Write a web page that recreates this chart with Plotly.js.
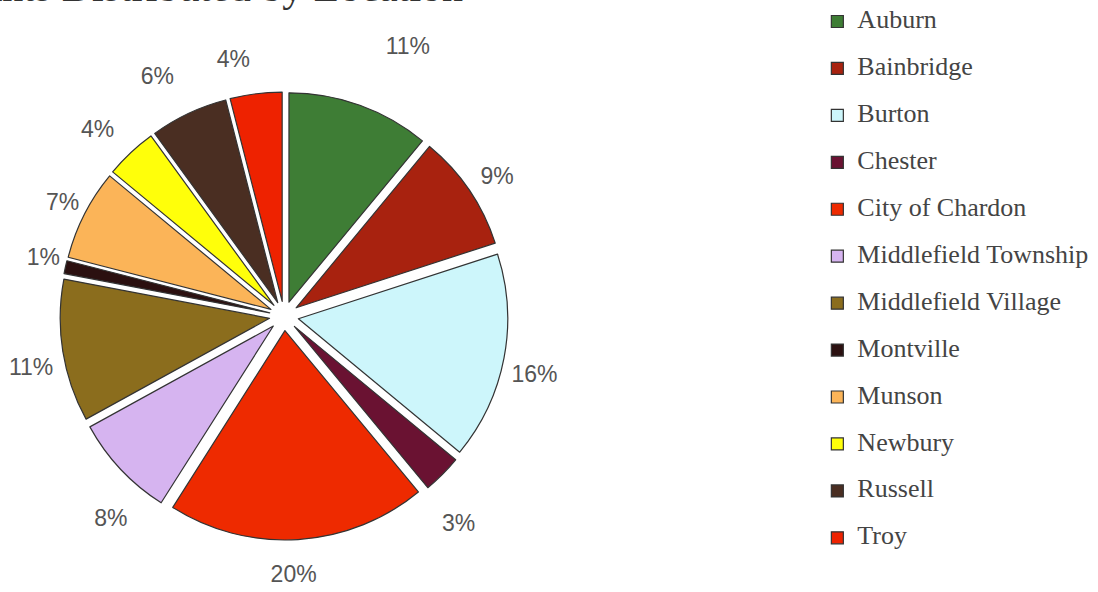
<!DOCTYPE html>
<html>
<head>
<meta charset="utf-8">
<script src="https://cdn.plot.ly/plotly-3.0.1.min.js"></script>
<style>
  html, body { margin: 0; padding: 0; background: #ffffff; }
  #chart { width: 1098px; height: 592px; }
</style>
</head>
<body>
<div id="chart"></div>
<script>
// ---- data ----
var categories = ["Auburn", "Bainbridge", "Burton", "Chester", "City of Chardon",
  "Middlefield Township", "Middlefield Village", "Montville", "Munson",
  "Newbury", "Russell", "Troy"];
var shares = [11, 9, 16, 3, 20, 8, 11, 1, 7, 4, 6, 4];
var sliceColors = ["#3e7d35", "#a8220f", "#cdf6fb", "#6a1232", "#ee2a00",
  "#d6b4f0", "#8b6d1d", "#2b1010", "#fbb458", "#ffff0a", "#4a2e22", "#ee2200"];
var titleText = "Participants Distributed by Location";

// ---- layout config (styling only) ----
var W = 1098, H = 592;
var PIE = { cx: 284, cy: 316, half: 224 };   // main pie box (pixels)
var LCX = 287, LCY = 313;                   // base centre for label rings
// rings on which the percentage labels sit: radius, offset, which slices use them
var labelRings = [
  { r: 272, dx: 0,   dy: 0,  members: ["Auburn"] },
  { r: 250, dx: 0,   dy: 0,  members: ["Russell"] },
  { r: 243, dx: 0,   dy: 0,  members: ["Troy", "Newbury"] },
  { r: 250, dx: -40, dy: 0,  members: ["City of Chardon"] },
  { r: 210, dx: 0,   dy: 55, members: ["Chester", "Middlefield Township"] },
  { r: 226, dx: -4,  dy: 18, members: ["Burton", "Middlefield Village"] },
  { r: 226, dx: 0,   dy: -6, members: ["Bainbridge", "Montville", "Munson"] }
];

function domainFor(cx, cy, half) {
  return {
    x: [(cx - half) / W, (cx + half) / W],
    y: [(H - (cy + half)) / H, (H - (cy - half)) / H]
  };
}

// legend labels: name shown large, with a blank second line for spacing
var legendLabels = categories.map(function (c) {
  return '<span style="font-size:26px">' + c + '</span><br> ';
});

var traces = [{
  type: 'pie',
  labels: legendLabels,
  values: shares,
  sort: false,
  direction: 'clockwise',
  rotation: 0,
  pull: 0.07,
  marker: { colors: sliceColors, line: { color: '#333333', width: 1.2 } },
  textinfo: 'none',
  hoverinfo: 'percent',
  domain: domainFor(PIE.cx, PIE.cy, PIE.half),
  showlegend: true
}];

labelRings.forEach(function (ring) {
  traces.push({
    type: 'pie',
    labels: categories,
    values: shares,
    sort: false,
    direction: 'clockwise',
    rotation: 0,
    marker: { colors: shares.map(function () { return 'rgba(0,0,0,0)'; }), line: { width: 0 } },
    texttemplate: categories.map(function (c) {
      return ring.members.indexOf(c) >= 0 ? '%{percent}' : '';
    }),
    textposition: 'outside',
    outsidetextfont: { family: 'Liberation Sans, Arial, sans-serif', size: 23, color: '#555555' },
    hoverinfo: 'none',
    domain: domainFor(LCX + ring.dx, LCY + ring.dy, ring.r),
    showlegend: false
  });
});

var layout = {
  width: W,
  height: H,
  margin: { l: 0, r: 0, t: 0, b: 0, autoexpand: false },
  paper_bgcolor: '#ffffff',
  plot_bgcolor: '#ffffff',
  showlegend: true,
  legend: {
    x: 0.7444, xanchor: 'left',
    y: 1 - 4 / H, yanchor: 'top',
    valign: 'top',
    font: { family: 'Liberation Serif, Times New Roman, serif', size: 16.9, color: '#444444' },
    bgcolor: 'rgba(0,0,0,0)',
    traceorder: 'normal'
  },
  annotations: [{
    text: titleText,
    xref: 'paper', yref: 'paper',
    x: 465 / W, xanchor: 'right',
    y: 1 + 13 / H, yanchor: 'middle',
    showarrow: false,
    font: { family: 'Liberation Serif, Times New Roman, serif', size: 42, color: '#333333' }
  }]
};

Plotly.newPlot('chart', traces, layout, { displayModeBar: false, staticPlot: true });
</script>
</body>
</html>
